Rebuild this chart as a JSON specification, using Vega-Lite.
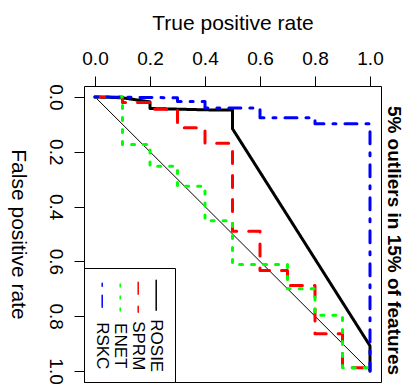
{
  "$schema": "https://vega.github.io/schema/vega-lite/v6.json",
  "width": 297,
  "height": 296,
  "autosize": "none",
  "padding": {"left": 84, "top": 86, "right": 27, "bottom": 5},
  "config": {
    "font": "Liberation Sans",
    "view": {"stroke": "black", "strokeWidth": 1},
    "axis": {"labelColor": "black", "titleColor": "black", "tickColor": "black", "grid": false, "domain": false}
  },
  "datasets": {
    "diag": [
      {"tpr": 0, "fpr": 0},
      {"tpr": 1, "fpr": 1}
    ],
    "curves": [
      {"series": "ROSIE", "i": 0, "tpr": 0, "fpr": 0},
      {"series": "ROSIE", "i": 1, "tpr": 0.1, "fpr": 0.003},
      {"series": "ROSIE", "i": 2, "tpr": 0.2, "fpr": 0.018},
      {"series": "ROSIE", "i": 3, "tpr": 0.2, "fpr": 0.042},
      {"series": "ROSIE", "i": 4, "tpr": 0.4, "fpr": 0.047},
      {"series": "ROSIE", "i": 5, "tpr": 0.5, "fpr": 0.048},
      {"series": "ROSIE", "i": 6, "tpr": 0.5, "fpr": 0.116},
      {"series": "ROSIE", "i": 7, "tpr": 1.0, "fpr": 0.908},
      {"series": "ROSIE", "i": 8, "tpr": 1.0, "fpr": 1.0},
      {"series": "SPRM", "i": 0, "tpr": 0, "fpr": 0},
      {"series": "SPRM", "i": 1, "tpr": 0.1, "fpr": 0},
      {"series": "SPRM", "i": 2, "tpr": 0.1, "fpr": 0.02},
      {"series": "SPRM", "i": 3, "tpr": 0.2, "fpr": 0.02},
      {"series": "SPRM", "i": 4, "tpr": 0.2, "fpr": 0.045},
      {"series": "SPRM", "i": 5, "tpr": 0.3, "fpr": 0.045},
      {"series": "SPRM", "i": 6, "tpr": 0.3, "fpr": 0.112},
      {"series": "SPRM", "i": 7, "tpr": 0.4, "fpr": 0.112},
      {"series": "SPRM", "i": 8, "tpr": 0.4, "fpr": 0.169},
      {"series": "SPRM", "i": 9, "tpr": 0.5, "fpr": 0.169},
      {"series": "SPRM", "i": 10, "tpr": 0.5, "fpr": 0.49},
      {"series": "SPRM", "i": 11, "tpr": 0.6, "fpr": 0.49},
      {"series": "SPRM", "i": 12, "tpr": 0.6, "fpr": 0.633},
      {"series": "SPRM", "i": 13, "tpr": 0.7, "fpr": 0.633},
      {"series": "SPRM", "i": 14, "tpr": 0.7, "fpr": 0.688},
      {"series": "SPRM", "i": 15, "tpr": 0.8, "fpr": 0.688},
      {"series": "SPRM", "i": 16, "tpr": 0.8, "fpr": 0.864},
      {"series": "SPRM", "i": 17, "tpr": 0.9, "fpr": 0.864},
      {"series": "SPRM", "i": 18, "tpr": 0.9, "fpr": 0.988},
      {"series": "SPRM", "i": 19, "tpr": 1.0, "fpr": 0.988},
      {"series": "SPRM", "i": 20, "tpr": 1.0, "fpr": 1.0},
      {"series": "ENET", "i": 0, "tpr": 0, "fpr": 0},
      {"series": "ENET", "i": 1, "tpr": 0.1, "fpr": 0},
      {"series": "ENET", "i": 2, "tpr": 0.1, "fpr": 0.173},
      {"series": "ENET", "i": 3, "tpr": 0.2, "fpr": 0.173},
      {"series": "ENET", "i": 4, "tpr": 0.2, "fpr": 0.253},
      {"series": "ENET", "i": 5, "tpr": 0.3, "fpr": 0.253},
      {"series": "ENET", "i": 6, "tpr": 0.3, "fpr": 0.326},
      {"series": "ENET", "i": 7, "tpr": 0.4, "fpr": 0.326},
      {"series": "ENET", "i": 8, "tpr": 0.4, "fpr": 0.452},
      {"series": "ENET", "i": 9, "tpr": 0.5, "fpr": 0.452},
      {"series": "ENET", "i": 10, "tpr": 0.5, "fpr": 0.611},
      {"series": "ENET", "i": 11, "tpr": 0.7, "fpr": 0.611},
      {"series": "ENET", "i": 12, "tpr": 0.7, "fpr": 0.7},
      {"series": "ENET", "i": 13, "tpr": 0.8, "fpr": 0.7},
      {"series": "ENET", "i": 14, "tpr": 0.8, "fpr": 0.796},
      {"series": "ENET", "i": 15, "tpr": 0.9, "fpr": 0.796},
      {"series": "ENET", "i": 16, "tpr": 0.9, "fpr": 0.988},
      {"series": "ENET", "i": 17, "tpr": 1.0, "fpr": 0.988},
      {"series": "ENET", "i": 18, "tpr": 1.0, "fpr": 1.0},
      {"series": "RSKC", "i": 0, "tpr": 0, "fpr": 0},
      {"series": "RSKC", "i": 1, "tpr": 0.3, "fpr": 0.003},
      {"series": "RSKC", "i": 2, "tpr": 0.3, "fpr": 0.017},
      {"series": "RSKC", "i": 3, "tpr": 0.4, "fpr": 0.017},
      {"series": "RSKC", "i": 4, "tpr": 0.4, "fpr": 0.04},
      {"series": "RSKC", "i": 5, "tpr": 0.6, "fpr": 0.04},
      {"series": "RSKC", "i": 6, "tpr": 0.6, "fpr": 0.076},
      {"series": "RSKC", "i": 7, "tpr": 0.8, "fpr": 0.076},
      {"series": "RSKC", "i": 8, "tpr": 0.8, "fpr": 0.098},
      {"series": "RSKC", "i": 9, "tpr": 1.0, "fpr": 0.098},
      {"series": "RSKC", "i": 10, "tpr": 1.0, "fpr": 1.0}
    ]
  },
  "layer": [
    {
      "data": {"name": "diag"},
      "mark": {"type": "line", "color": "black", "strokeWidth": 1},
      "encoding": {
        "x": {
          "field": "tpr", "type": "quantitative",
          "scale": {"domain": [-0.04, 1.04], "nice": false, "zero": false},
          "axis": {
            "orient": "top", "title": "True positive rate",
            "values": [0, 0.2, 0.4, 0.6, 0.8, 1], "format": ".1f",
            "tickSize": 10, "tickWidth": 1, "labelFontSize": 19, "labelPadding": 8,
            "labelFlush": false, "labelOverlap": false,
            "titleFontSize": 21, "titleFontWeight": "normal", "titlePadding": 16
          }
        },
        "y": {
          "field": "fpr", "type": "quantitative",
          "scale": {"domain": [-0.04, 1.04], "nice": false, "zero": false, "reverse": true},
          "axis": {
            "orient": "right", "title": "5% outliers in 15% of features",
            "labels": false, "ticks": false, "domain": false,
            "titleFontSize": 19, "titleFontWeight": "bold", "titlePadding": 2,
            "titleAngle": 90, "titleBaseline": "bottom", "titleY": 154
          }
        }
      }
    },
    {
      "data": {"name": "curves"},
      "mark": {"type": "line", "strokeWidth": 3, "strokeCap": "round", "strokeJoin": "round"},
      "encoding": {
        "x": {
          "field": "tpr", "type": "quantitative",
          "scale": {"domain": [-0.04, 1.04], "nice": false, "zero": false},
          "axis": {
            "orient": "top", "title": "True positive rate",
            "values": [0, 0.2, 0.4, 0.6, 0.8, 1], "format": ".1f",
            "tickSize": 10, "tickWidth": 1, "labelFontSize": 19, "labelPadding": 8,
            "labelFlush": false, "labelOverlap": false,
            "titleFontSize": 21, "titleFontWeight": "normal", "titlePadding": 16
          }
        },
        "y": {
          "field": "fpr", "type": "quantitative",
          "scale": {"domain": [-0.04, 1.04], "nice": false, "zero": false, "reverse": true},
          "axis": {
            "orient": "left", "title": "False positive rate",
            "values": [0, 0.2, 0.4, 0.6, 0.8, 1], "format": ".1f",
            "tickSize": 10, "tickWidth": 1, "labelFontSize": 19, "labelPadding": 10,
            "labelAngle": 90, "labelAlign": "center", "labelBaseline": "top",
            "labelFlush": false, "labelOverlap": false,
            "titleFontSize": 21, "titleFontWeight": "normal", "titlePadding": 17,
            "titleAngle": 90, "titleBaseline": "top", "titleAlign": "center"
          }
        },
        "order": {"field": "i", "type": "quantitative"},
        "color": {
          "field": "series", "type": "nominal",
          "scale": {"domain": ["RSKC", "ENET", "SPRM", "ROSIE"], "range": ["#0000FF", "#00FF00", "#FF0000", "#000000"]},
          "legend": {
            "orient": "bottom-left", "offset": 0, "direction": "horizontal", "title": null,
            "padding": 9.5, "strokeColor": "black", "fillColor": "white", "cornerRadius": 0,
            "symbolType": "M0,-1L0,1", "symbolSize": 900, "symbolStrokeWidth": 1.5,
            "columnPadding": 0, "labelFontSize": 17, "labelColor": "black",
            "encode": {
              "symbols": {"update": {
                "x": {"value": 8.7},
                "y": {"value": 17.5},
                "strokeWidth": {"value": 1.5},
                "strokeCap": {"value": "round"},
                "strokeDash": {"signal": "datum.value === 'SPRM' ? [6,6] : datum.value === 'ENET' ? [1.5,4.5] : datum.value === 'RSKC' ? [1.5,4.5,6,4.5] : [1,0]"}
              }},
              "labels": {"update": {
                "angle": {"value": 90},
                "align": {"value": "left"},
                "baseline": {"value": "middle"},
                "fontSize": {"value": 17},
                "x": {"value": 8.7},
                "y": {"value": 41.5}
              }}
            }
          }
        },
        "strokeDash": {
          "field": "series", "type": "nominal",
          "scale": {"domain": ["RSKC", "ENET", "SPRM", "ROSIE"], "range": [[3, 9, 12, 9], [3, 9], [12, 12], [1, 0]]},
          "legend": {
            "orient": "bottom-left", "offset": 0, "direction": "horizontal", "title": null,
            "padding": 9.5, "strokeColor": "black", "fillColor": "white", "cornerRadius": 0,
            "symbolType": "M0,-1L0,1", "symbolSize": 900, "symbolStrokeWidth": 1.5,
            "columnPadding": 0, "labelFontSize": 17, "labelColor": "black"
          }
        }
      }
    }
  ],
  "resolve": {"axis": {"y": "independent"}}
}
